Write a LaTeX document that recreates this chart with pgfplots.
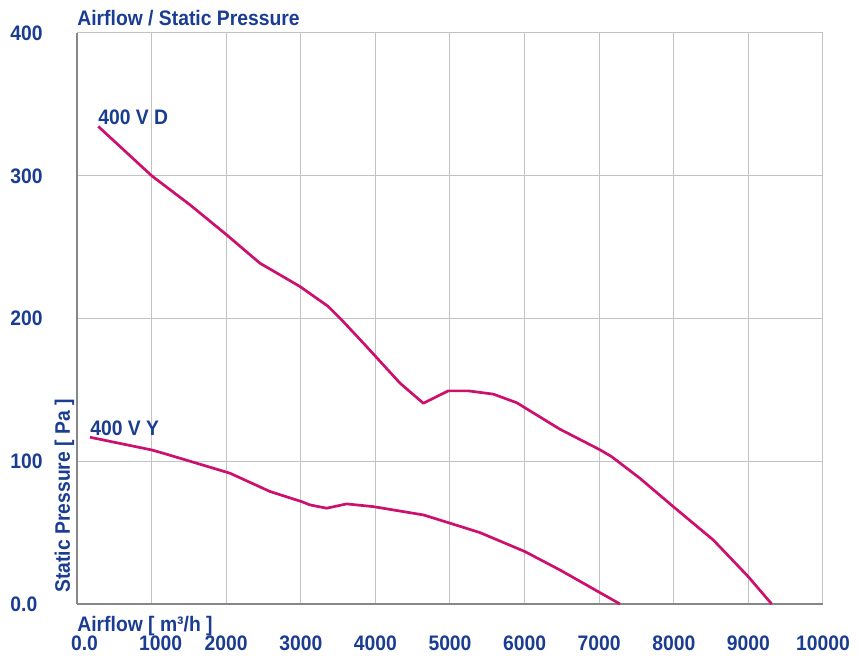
\documentclass[border=0pt]{standalone}
\usepackage{fontspec}
\setmainfont[FakeStretch=0.92]{Liberation Sans}
\usepackage{pgfplots}
\pgfplotsset{compat=1.18}
\definecolor{txtblue}{RGB}{26,60,145}
\definecolor{curve}{RGB}{204,16,110}
\definecolor{gridc}{RGB}{195,195,195}
\definecolor{axc}{RGB}{135,135,135}
\begin{document}
\begin{tikzpicture}
\begin{axis}[
    scale only axis,
    width=373pt, height=285.5pt,
    xmin=0, xmax=10000,
    ymin=0, ymax=400,
    xtick={0,1000,2000,3000,4000,5000,6000,7000,8000,9000,10000},
    xticklabels={\hspace*{7.5pt}0.0,\hspace*{9pt}1000,2000,3000,4000,5000,6000,7000,8000,9000,10000},
    ytick={0,100,200,300,400},
    yticklabels={0.0,100,200,300,400},
    axis x line*=bottom, axis y line*=left,
    axis line style={draw=axc, line width=0.75pt, -},
    major tick length=0pt,
    grid=major,
    grid style={draw=gridc, line width=0.5pt},
    /pgf/number format/assume math mode=true,
    xticklabel style={font=\fontsize{10.5}{12}\selectfont\bfseries, text=txtblue, anchor=base, inner sep=0pt, yshift=-23.5pt},
    yticklabel style={font=\fontsize{10.5}{12}\selectfont\bfseries, text=txtblue, anchor=base west, inner sep=0pt, xshift=-33.5pt, yshift=-3.7pt},
    clip=false,
]
% 400 V D
\addplot[curve, line width=1.35pt, line join=round] coordinates {
(286,334.5)(1001,300)(1515,279.6)(2006,258.6)(2453,238.7)(2989,222.4)
(3369,208.4)(3548,199)(3861,181.5)(4330,154.7)(4643,140.6)(4977,149.3)
(5245,149.3)(5581,147)(5894,141)(6475,122.4)(7011,108)(7167,103.2)
(7547,88)(7993,68.2)(8530,44.8)(8999,19.1)(9312,0)
};
% 400 V Y
\addplot[curve, line width=1.35pt, line join=round] coordinates {
(174,116.8)(1001,107.9)(1157,105.6)(2051,91.6)(2587,78.8)(3012,71.7)
(3123,69.4)(3347,67.1)(3615,70.1)(3972,68.2)(4374,64.7)(4643,62.4)
(5000,56.6)(5402,50)(6005,36.7)(6475,23.8)(6988,8.6)(7279,0)
};
\node[anchor=base west, inner sep=0pt, text=txtblue, font=\fontsize{10.5}{12}\selectfont\bfseries] at (axis cs:281,335.7) {400 V D};
\node[anchor=base west, inner sep=0pt, text=txtblue, font=\fontsize{10.5}{12}\selectfont\bfseries] at (axis cs:174,117.7) {400 V Y};
\node[anchor=base west, inner sep=0pt, text=txtblue, font=\fontsize{10.5}{12}\selectfont\bfseries, yshift=3.5pt] at (rel axis cs:0,1) {Airflow / Static Pressure};
\node[anchor=base west, inner sep=0pt, text=txtblue, font=\fontsize{10.5}{12}\selectfont\bfseries, yshift=-14pt] at (rel axis cs:0,0) {Airflow [ m³/h ]};
\node[anchor=base west, rotate=90, inner sep=0pt, text=txtblue, font=\fontsize{10.5}{12}\selectfont\bfseries, xshift=5.5pt, yshift=3.5pt] at (rel axis cs:0,0) {Static Pressure [ Pa ]};
\end{axis}
\pgfresetboundingbox
\path[use as bounding box] (-38.5pt,-26pt) rectangle (391pt,302pt);
\end{tikzpicture}
\end{document}
